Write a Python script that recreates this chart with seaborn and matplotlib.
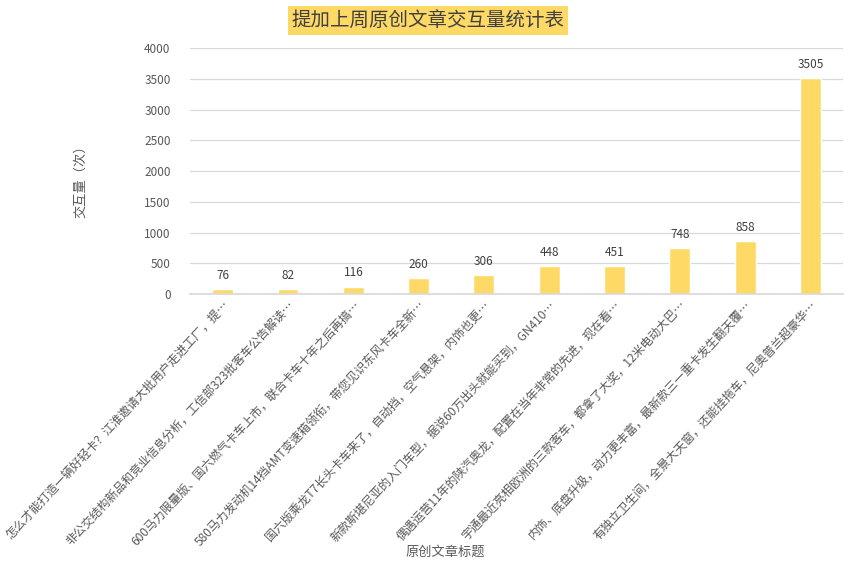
import pandas as pd
import seaborn as sns
import matplotlib.pyplot as plt

titles = [
    "怎么才能打造一辆好轻卡？江淮邀请大批用户走进工厂，提…",
    "非公交结构新品和竞业信息分析，工信部323批客车公告解读…",
    "600马力限量版、国六燃气卡车上市，联合卡车十年之后再搞…",
    "580马力发动机14挡AMT变速箱领衔，带您见识东风卡车全新…",
    "国六版乘龙T7长头卡车来了，自动挡，空气悬架，内饰也更…",
    "新款斯堪尼亚的入门车型，据说60万出头就能买到，GN410…",
    "偶遇运营11年的陕汽奥龙，配置在当年非常的先进，现在看…",
    "宇通最近亮相欧洲的三款客车，都拿了大奖，12米电动大巴…",
    "内饰、底盘升级，动力更丰富，最新款三一重卡发生翻天覆…",
    "有独立卫生间，全景大天窗，还能挂拖车，尼奥普兰超豪华…",
]
counts = [76, 82, 116, 260, 306, 448, 451, 748, 858, 3505]

df = pd.DataFrame({"title": titles, "count": counts})

sns.set_theme(style="white")
plt.rcParams["font.family"] = ["Noto Sans CJK SC", "DejaVu Sans"]

fig = plt.figure(figsize=(8.56, 5.75), dpi=100)
ax = fig.add_axes([0.222, 0.4887, 0.763, 0.4278])

sns.barplot(data=df, x="title", y="count", color="#FFD966", saturation=1,
            width=0.32, ax=ax)

ax.set_ylim(0, 4000)
ax.set_yticks(range(0, 4001, 500))
ax.yaxis.grid(True, color="#D9D9D9", linewidth=0.9)
ax.set_axisbelow(True)
for s in ["top", "right", "left"]:
    ax.spines[s].set_visible(False)
ax.spines["bottom"].set_color("#D9D9D9")
ax.tick_params(axis="both", length=0, colors="#595959", labelsize=8.5)
ax.tick_params(axis="y", pad=14)

# 长标题斜放
ax.set_xticks(range(len(titles)))
ax.set_xticklabels(titles, rotation=47, ha="right", rotation_mode="anchor",
                   fontsize=8.6, color="#595959")

for i, v in enumerate(counts):
    ax.text(i, v + 120, str(v), ha="center", va="bottom", fontsize=8.5, color="#404040")

ax.set_xlabel("")
ax.set_ylabel("")
fig.text(0.52, 0.04, "原创文章标题", ha="center", va="center", fontsize=9.5, color="#595959")
fig.text(0.094, 0.69, "交互量（次）", ha="center", va="center", rotation=90,
         fontsize=9.5, color="#595959")
fig.text(0.5, 0.965, "提加上周原创文章交互量统计表", ha="center", va="center",
         fontsize=14, color="#404040",
         bbox=dict(boxstyle="square,pad=0.2", facecolor="#FFD966", edgecolor="none"))

fig.savefig("out.png", dpi=100)
